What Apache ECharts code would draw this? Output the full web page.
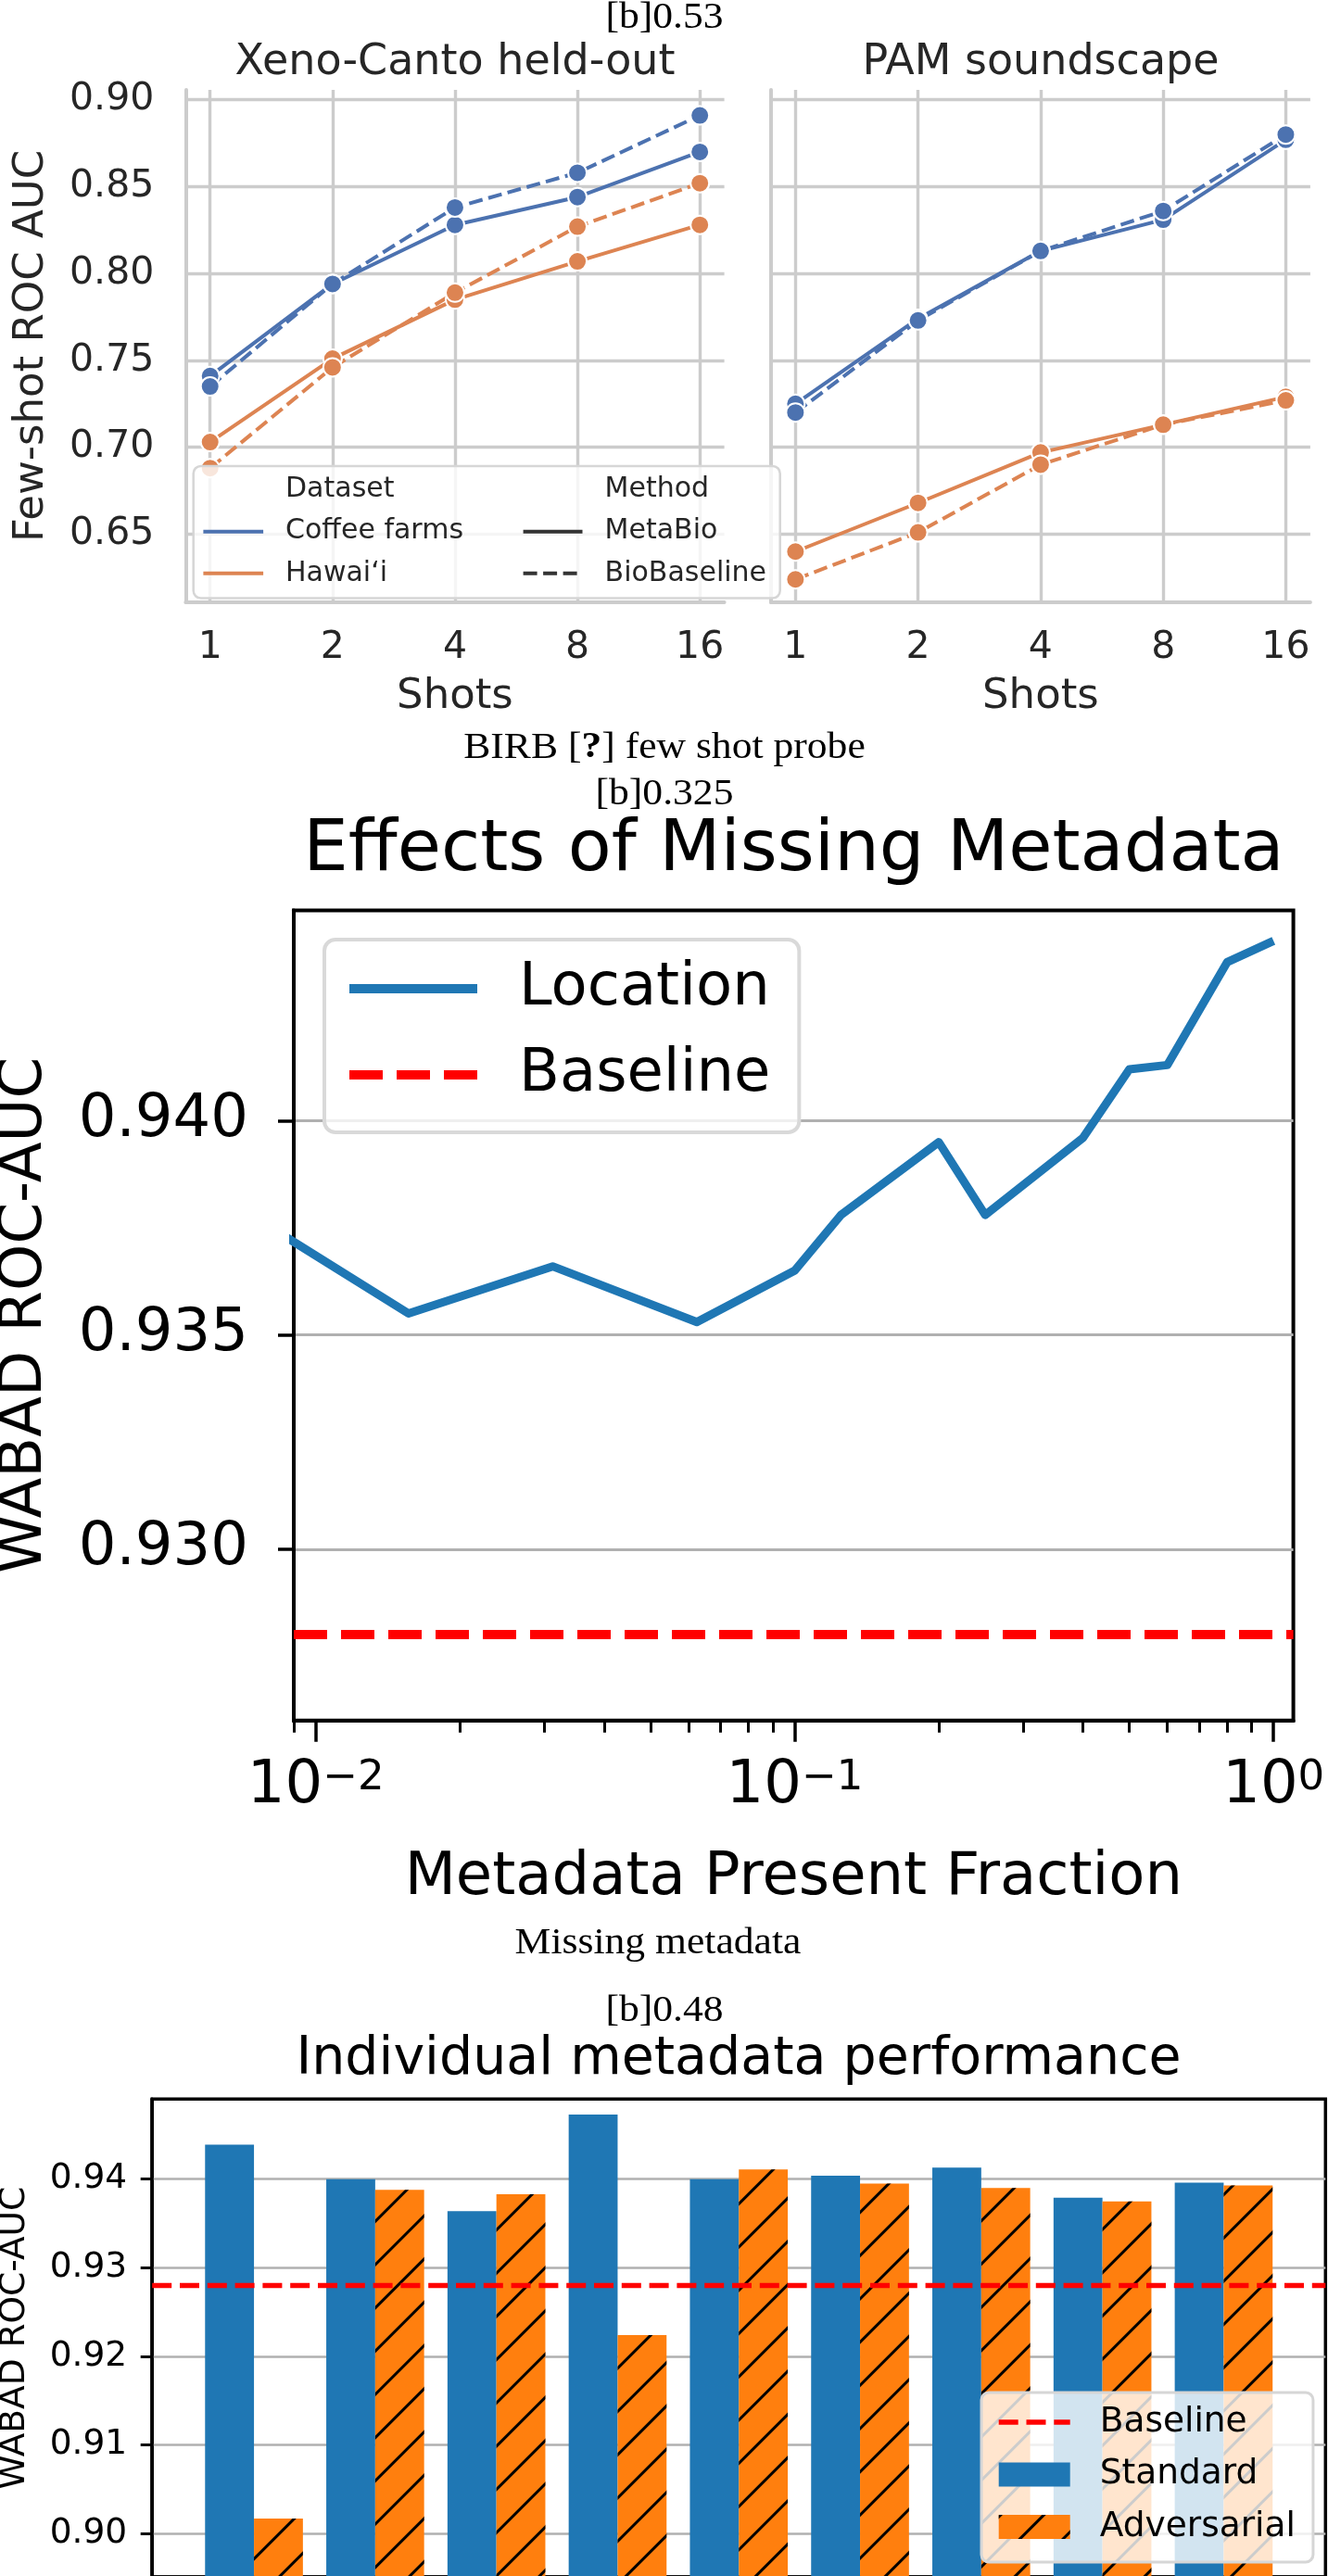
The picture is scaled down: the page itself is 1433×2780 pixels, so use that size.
<!DOCTYPE html>
<html>
<head>
<meta charset="UTF-8">
<title>Metadata figures</title>
<script src="https://cdn.jsdelivr.net/npm/echarts@6/dist/echarts.min.js"></script>
<style>
  html, body { margin: 0; padding: 0; background: #ffffff; }
  #fig { width: 1433px; height: 2780px; }
</style>
</head>
<body>
<div id="fig"></div>
<script>
// ---------- BIRB few shot probe ----------
var shots = [1, 2, 4, 8, 16];
var fewShotTicks = [0.65, 0.70, 0.75, 0.80, 0.85, 0.90];
var xenoCoffeeMeta = [0.741, 0.794, 0.828, 0.844, 0.870];
var xenoCoffeeBase = [0.735, 0.794, 0.838, 0.858, 0.891];
var xenoHawaiiMeta = [0.703, 0.751, 0.785, 0.807, 0.828];
var xenoHawaiiBase = [0.688, 0.746, 0.789, 0.827, 0.852];
var pamCoffeeMeta = [0.725, 0.774, 0.813, 0.831, 0.877];
var pamCoffeeBase = [0.720, 0.773, 0.813, 0.836, 0.880];
var pamHawaiiMeta = [0.640, 0.668, 0.697, 0.713, 0.729];
var pamHawaiiBase = [0.624, 0.651, 0.690, 0.713, 0.727];

// ---------- Missing metadata ----------
var presentFraction = [1/128, 1/64, 1/32, 1/16, 0.1, 1/8, 0.2, 0.25, 0.4, 0.5, 0.6, 0.8, 1.0];
var locationAuc = [0.9376, 0.9355, 0.9366, 0.9353, 0.9365, 0.9378, 0.9395, 0.9378, 0.9396, 0.9412, 0.9413, 0.9437, 0.9442];
var baselineAuc = 0.928;
var missingTicks = [0.930, 0.935, 0.940];
var fractionMajor = [0.01, 0.1, 1];
var fractionMinor = [0.009, 0.02, 0.03, 0.04, 0.05, 0.06, 0.07, 0.08, 0.09,
                     0.2, 0.3, 0.4, 0.5, 0.6, 0.7, 0.8, 0.9];

// ---------- Individual metadata performance ----------
var metaStandard    = [0.9439, 0.9400, 0.9364, 0.9473, 0.9400, 0.9404, 0.9413, 0.9379, 0.9396];
var metaAdversarial = [0.9017, 0.9388, 0.9383, 0.9224, 0.9411, 0.9395, 0.9390, 0.9375, 0.9393];
var individualTicks = [0.88, 0.89, 0.90, 0.91, 0.92, 0.93, 0.94];

var SANS = 'DejaVu Sans';
var SERIF = 'Liberation Serif';
var INK = '#262626';
var DEEP_BLUE = '#4c72b0', DEEP_ORANGE = '#dd8452';
var TAB_BLUE = '#1f77b4', TAB_ORANGE = '#ff7f0e';

var fig = echarts.init(document.getElementById('fig'), null, {renderer: 'canvas'});

function pairs(xs, ys) {
    return ys.map(function (v, i) { return [xs[i], v]; });
}
var metaIndex = metaStandard.map(function (v, i) { return i; });

function fewShotSeries(name, idx, vals, color, dashed) {
    return {
        type: 'line', name: name, xAxisIndex: idx, yAxisIndex: idx,
        data: pairs(shots, vals),
        symbol: 'circle', symbolSize: 20,
        itemStyle: {color: color, borderColor: '#ffffff', borderWidth: 2},
        lineStyle: {color: color, width: 4, type: dashed ? [15, 6.5] : 'solid'},
        emphasis: {disabled: true}, silent: true, clip: false
    };
}

function shotsAxis(gi) {
    return {
        type: 'log', logBase: 2, gridIndex: gi,
        min: Math.pow(2, -0.2), max: Math.pow(2, 4.2),
        axisLine: {show: true, onZero: false, lineStyle: {color: '#cccccc', width: 4}},
        axisTick: {show: false, customValues: shots},
        axisLabel: {customValues: shots, fontFamily: SANS, fontSize: 41, color: INK, margin: 29,
                    formatter: function (v) { return String(Math.round(v)); }},
        splitLine: {show: true, lineStyle: {color: '#cccccc', width: 3.4}},
        name: 'Shots', nameLocation: 'middle', nameGap: 80,
        nameTextStyle: {fontFamily: SANS, fontSize: 45, color: INK}
    };
}

function aucAxis(gi, withLabels) {
    return {
        type: 'value', gridIndex: gi, min: 0.6108, max: 0.9057,
        axisLine: {show: true, onZero: false, lineStyle: {color: '#cccccc', width: 4}},
        axisTick: {show: false, customValues: fewShotTicks},
        axisLabel: {show: withLabels, customValues: fewShotTicks, fontFamily: SANS, fontSize: 41,
                    color: INK, margin: 34, formatter: function (v) { return v.toFixed(2); }},
        splitLine: {show: true, lineStyle: {color: '#cccccc', width: 3.4}},
        name: withLabels ? 'Few-shot ROC AUC' : '', nameLocation: 'middle', nameGap: 143,
        nameTextStyle: {fontFamily: SANS, fontSize: 45, color: INK}
    };
}

function textEl(x, y, text, size, family, color, extra) {
    var el = {
        type: 'text', x: x, y: y, z: 60, silent: true,
        style: {text: text, fontSize: size, fontFamily: family, fill: color,
                textAlign: 'center', textVerticalAlign: 'middle'}
    };
    if (extra) {
        for (var k in extra) { el[k] = extra[k]; }
    }
    return el;
}
function caption(x, y, text) {
    return textEl(x, y, text, 40, SERIF, '#000000', {scaleX: 1.09});
}
function legendText(x, y, text) {
    var el = textEl(x, y, text, 30, SANS, INK);
    el.style.textAlign = 'left';
    el.z = 52;
    return el;
}
function legendLine(x1, x2, y, color, dashed) {
    return {type: 'line', z: 52, silent: true,
            shape: {x1: x1, y1: y, x2: x2, y2: y},
            style: {stroke: color, lineWidth: 4, lineDash: dashed ? [15, 6.5] : null}};
}

var birbCaption = textEl(717, 807, 'BIRB [{q|?}] few shot probe', 40, SERIF, '#000000', {scaleX: 1.09});
birbCaption.style.rich = {q: {fontWeight: 'bold', fontSize: 40, fontFamily: SERIF}};

var graphics = [
    caption(717, 19, '[b]0.53'),
    textEl(491, 68, 'Xeno-Canto held-out', 46, SANS, INK),
    textEl(1123, 68, 'PAM soundscape', 46, SANS, INK),
    {type: 'rect', z: 50, silent: true,
     shape: {x: 208.7, y: 502.9, width: 633, height: 142.7, r: 8},
     style: {fill: 'rgba(255,255,255,0.8)', stroke: '#d6d6d6', lineWidth: 2.5}},
    legendText(308, 528.5, 'Dataset'),
    legendText(308, 573.7, 'Coffee farms'),
    legendText(308, 618.8, 'Hawai\u2018i'),
    legendText(652.6, 528.5, 'Method'),
    legendText(652.6, 573.7, 'MetaBio'),
    legendText(652.6, 618.8, 'BioBaseline'),
    legendLine(219.4, 284.1, 573.7, DEEP_BLUE, false),
    legendLine(219.4, 284.1, 618.8, DEEP_ORANGE, false),
    legendLine(564.6, 628.5, 573.7, '#333333', false),
    legendLine(564.6, 628.5, 618.8, '#333333', true),
    birbCaption,
    caption(717, 857, '[b]0.325'),
    textEl(856.5, 919, 'Effects of Missing Metadata', 76.8, SANS, '#000000'),
    caption(710, 2097, 'Missing metadata'),
    caption(717, 2170, '[b]0.48'),
    textEl(797, 2223, 'Individual metadata performance', 57, SANS, '#000000')
];

var noDot = {opacity: 0};

var option = {
    animation: false,
    backgroundColor: '#ffffff',
    textStyle: {fontFamily: SANS},
    grid: [
        {left: 200.3, top: 97, width: 581.3, height: 553, outerBoundsMode: 'none'},
        {left: 831.9, top: 97, width: 582, height: 553, outerBoundsMode: 'none'},
        {left: 317, top: 982.5, width: 1078.6, height: 874.2, outerBoundsMode: 'none',
         show: true, borderColor: '#000000', borderWidth: 4, backgroundColor: 'transparent'},
        {left: 164.2, top: 2265.2, width: 1266.1, height: 515.8, outerBoundsMode: 'none',
         show: true, borderColor: '#000000', borderWidth: 3.5, backgroundColor: 'transparent'}
    ],
    xAxis: [
        shotsAxis(0),
        shotsAxis(1),
        {
            type: 'log', logBase: 10, gridIndex: 2, min: 0.009, max: 1.1, position: 'bottom',
            axisLine: {show: true, onZero: false, lineStyle: {color: '#000000', width: 4}},
            axisTick: {show: true, customValues: fractionMajor, length: 23,
                       lineStyle: {color: '#000000', width: 3.5}},
            axisLabel: {
                customValues: fractionMajor, margin: 40, color: '#000000',
                formatter: function (v) {
                    var e = Math.round(Math.log10(v));
                    return '{b|10}{s|' + (e < 0 ? '\u2212' + (-e) : String(e)) + '}';
                },
                rich: {
                    b: {fontFamily: SANS, fontSize: 64, lineHeight: 64, color: '#000000'},
                    s: {fontFamily: SANS, fontSize: 45, lineHeight: 45, verticalAlign: 'top', color: '#000000'}
                }
            },
            splitLine: {show: false},
            name: 'Metadata Present Fraction', nameLocation: 'middle', nameGap: 139,
            nameTextStyle: {fontFamily: SANS, fontSize: 64, color: '#000000'}
        },
        {
            type: 'log', logBase: 10, gridIndex: 2, min: 0.009, max: 1.1, position: 'bottom', offset: 0,
            axisLine: {show: false},
            axisTick: {show: true, customValues: fractionMinor, length: 13,
                       lineStyle: {color: '#000000', width: 3}},
            axisLabel: {show: false},
            splitLine: {show: false}
        },
        {
            type: 'value', gridIndex: 3, min: -0.84, max: 8.84,
            axisLine: {show: true, onZero: false, lineStyle: {color: '#000000', width: 3.5}},
            axisTick: {show: false}, axisLabel: {show: false}, splitLine: {show: false}
        }
    ],
    yAxis: [
        aucAxis(0, true),
        aucAxis(1, false),
        {
            type: 'value', gridIndex: 2, min: 0.926, max: 0.94491,
            axisLine: {show: true, onZero: false, lineStyle: {color: '#000000', width: 4}},
            axisTick: {show: true, customValues: missingTicks, length: 17,
                       lineStyle: {color: '#000000', width: 3.5}},
            axisLabel: {customValues: missingTicks, fontFamily: SANS, fontSize: 64, color: '#000000',
                        margin: 49, formatter: function (v) { return v.toFixed(3); }},
            splitLine: {show: true, lineStyle: {color: '#b0b0b0', width: 3}},
            name: 'WABAD ROC-AUC', nameLocation: 'middle', nameGap: 258,
            nameTextStyle: {fontFamily: SANS, fontSize: 64, color: '#000000'}
        },
        {
            type: 'value', gridIndex: 3, min: 0.8951, max: 0.94905,
            axisLine: {show: true, onZero: false, lineStyle: {color: '#000000', width: 3.5}},
            axisTick: {show: true, customValues: individualTicks, length: 12.5,
                       lineStyle: {color: '#000000', width: 3}},
            axisLabel: {customValues: individualTicks, fontFamily: SANS, fontSize: 37.5, color: '#000000',
                        margin: 27, formatter: function (v) { return v.toFixed(2); }},
            splitLine: {show: true, lineStyle: {color: '#b0b0b0', width: 2.5}},
            name: 'WABAD ROC-AUC', nameLocation: 'middle', nameGap: 129,
            nameTextStyle: {fontFamily: SANS, fontSize: 37.5, color: '#000000'}
        }
    ],
    legend: [
        {
            data: [{name: 'Location', itemStyle: noDot}, {name: 'Baseline', itemStyle: noDot}],
            orient: 'vertical', left: 350, top: 1014,
            itemWidth: 138, itemHeight: 10, itemGap: 29, padding: [21, 31, 30, 22],
            selectedMode: false, backgroundColor: 'rgba(255,255,255,0.8)',
            borderColor: '#d9d9d9', borderWidth: 4, borderRadius: 12,
            lineStyle: {width: 10},
            textStyle: {fontFamily: SANS, fontSize: 64, color: '#000000', padding: [0, 0, 0, 40]}
        },
        {
            data: [{name: 'Baseline ', itemStyle: noDot},
                   {name: 'Standard', icon: 'rect'}, {name: 'Adversarial', icon: 'rect'}],
            orient: 'vertical', left: 1059, top: 2582,
            itemWidth: 77, itemHeight: 26, itemGap: 18.5, padding: [13, 19, 19, 16],
            selectedMode: false, backgroundColor: 'rgba(255,255,255,0.8)',
            borderColor: '#d6d6d6', borderWidth: 3, borderRadius: 8,
            lineStyle: {width: 5.4},
            formatter: function (name) { return name.trim(); },
            textStyle: {fontFamily: SANS, fontSize: 37.5, color: '#000000', padding: [0, 0, 0, 27]}
        }
    ],
    series: [
        fewShotSeries('Coffee farms MetaBio', 0, xenoCoffeeMeta, DEEP_BLUE, false),
        fewShotSeries('Coffee farms BioBaseline', 0, xenoCoffeeBase, DEEP_BLUE, true),
        fewShotSeries('Hawaii MetaBio', 0, xenoHawaiiMeta, DEEP_ORANGE, false),
        fewShotSeries('Hawaii BioBaseline', 0, xenoHawaiiBase, DEEP_ORANGE, true),
        fewShotSeries('Coffee farms MetaBio', 1, pamCoffeeMeta, DEEP_BLUE, false),
        fewShotSeries('Coffee farms BioBaseline', 1, pamCoffeeBase, DEEP_BLUE, true),
        fewShotSeries('Hawaii MetaBio', 1, pamHawaiiMeta, DEEP_ORANGE, false),
        fewShotSeries('Hawaii BioBaseline', 1, pamHawaiiBase, DEEP_ORANGE, true),
        {
            type: 'line', name: 'Location', xAxisIndex: 2, yAxisIndex: 2,
            data: pairs(presentFraction, locationAuc), symbol: 'none', clip: true,
            itemStyle: {color: TAB_BLUE}, lineStyle: {color: TAB_BLUE, width: 9, join: 'round'},
            emphasis: {disabled: true}, silent: true
        },
        {
            type: 'line', name: 'Baseline', xAxisIndex: 2, yAxisIndex: 2, data: [], symbol: 'none', z: 3,
            itemStyle: {color: '#ff0000'}, lineStyle: {color: '#ff0000', width: 10, type: [36, 15]},
            markLine: {silent: true, symbol: ['none', 'none'], label: {show: false}, precision: 4,
                       lineStyle: {color: '#ff0000', width: 10, type: [36, 15]},
                       data: [{yAxis: baselineAuc}]}
        },
        {
            type: 'bar', name: 'Standard', xAxisIndex: 4, yAxisIndex: 3,
            data: pairs(metaIndex, metaStandard), barWidth: 52.8, barGap: '0%',
            itemStyle: {color: TAB_BLUE}, emphasis: {disabled: true}, silent: true
        },
        {
            type: 'bar', name: 'Adversarial', xAxisIndex: 4, yAxisIndex: 3,
            data: pairs(metaIndex, metaAdversarial), barWidth: 52.8, barGap: '0%',
            itemStyle: {color: TAB_ORANGE, decal: {
                symbol: 'rect', symbolSize: 1, color: '#000000', backgroundColor: null,
                dashArrayX: [1, 0], dashArrayY: [2.7, 29.8], rotation: -Math.PI / 4
            }},
            emphasis: {disabled: true}, silent: true
        },
        {
            type: 'line', name: 'Baseline ', xAxisIndex: 4, yAxisIndex: 3, data: [], symbol: 'none', z: 3,
            itemStyle: {color: '#ff0000'}, lineStyle: {color: '#ff0000', width: 5.4, type: [21, 8.8]},
            markLine: {silent: true, symbol: ['none', 'none'], label: {show: false}, precision: 4,
                       lineStyle: {color: '#ff0000', width: 5.4, type: [21, 8.8]},
                       data: [{yAxis: baselineAuc}]}
        }
    ],
    graphic: graphics
};

fig.setOption(option);
</script>
</body>
</html>
